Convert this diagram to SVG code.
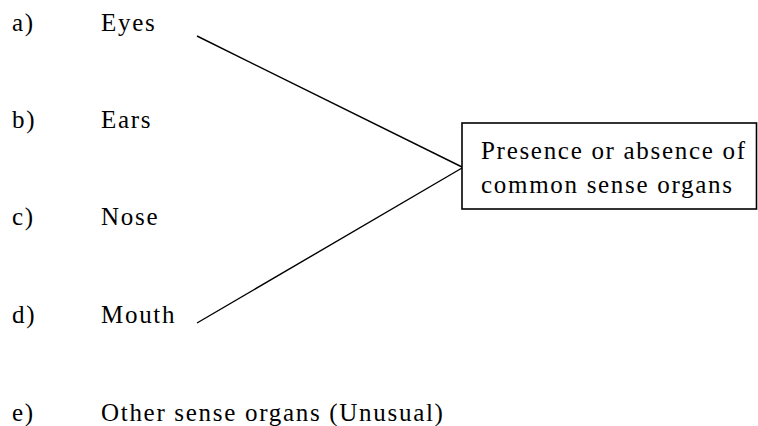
<svg xmlns="http://www.w3.org/2000/svg" width="758" height="426" viewBox="0 0 758 426">
<style>
text{font-family:"Liberation Serif","Times New Roman",serif;font-size:25px;fill:#000;letter-spacing:1.7px}
.conn{stroke:#000;stroke-width:1.4;fill:none}
.box{fill:#fff;stroke:#000;stroke-width:1.6}
</style>
<rect width="758" height="426" fill="#fff"/>
<g id="connectors">
<line class="conn" x1="197" y1="36" x2="462" y2="167"/>
<line class="conn" x1="197" y1="323" x2="462" y2="168"/>
</g>
<g id="node-a"><text x="12" y="31">a)</text><text x="101" y="31">Eyes</text></g>
<g id="node-b"><text x="12" y="128">b)</text><text x="101" y="128">Ears</text></g>
<g id="node-c"><text x="12" y="225">c)</text><text x="101" y="225">Nose</text></g>
<g id="node-d"><text x="12" y="323">d)</text><text x="101" y="323">Mouth</text></g>
<g id="node-e"><text x="12" y="421">e)</text><text x="101" y="421">Other sense organs (Unusual)</text></g>
<g id="node-box">
<rect class="box" x="462" y="123" width="294.5" height="86"/>
<text x="481" y="159">Presence or absence of</text>
<text x="481" y="193">common sense organs</text>
</g>
</svg>
